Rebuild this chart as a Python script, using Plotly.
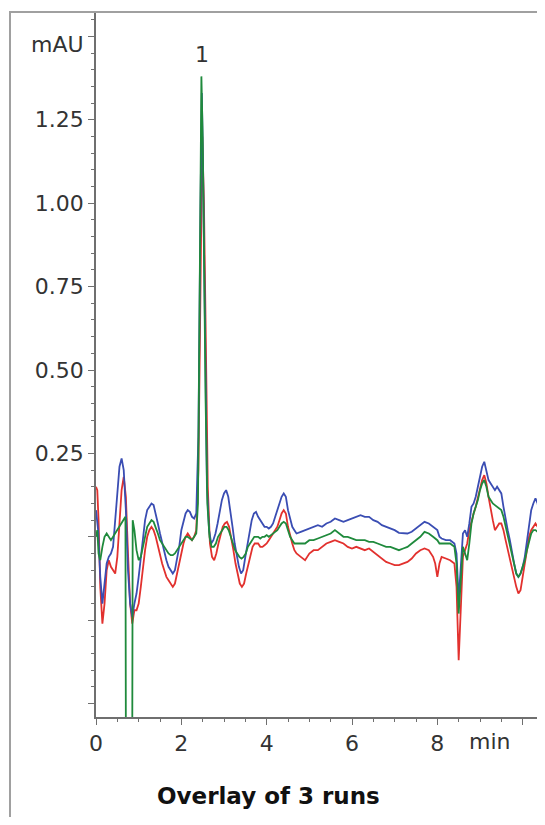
import plotly.graph_objects as go

# ---- data (time in min, signal in mAU) ----
blue_t = [0.00,0.05,0.10,0.15,0.20,0.25,0.30,0.35,0.40,0.45,0.50,0.55,0.60,0.65,0.70,0.75,0.80,0.85,0.90,0.95,
          1.00,1.05,1.10,1.15,1.20,1.25,1.30,1.35,1.40,1.45,1.50,1.55,1.60,1.65,1.70,1.75,1.80,1.85,1.90,1.95,
          2.00,2.05,2.10,2.15,2.20,2.25,2.30,2.35,2.40,2.45,2.48,2.51,2.55,2.60,2.65,2.70,2.75,2.80,2.85,2.90,2.95,
          3.00,3.05,3.10,3.15,3.20,3.25,3.30,3.35,3.40,3.45,3.50,3.55,3.60,3.65,3.70,3.75,3.80,3.85,3.90,3.95,
          4.00,4.05,4.10,4.15,4.20,4.25,4.30,4.35,4.40,4.45,4.50,4.55,4.60,4.65,4.70,4.80,4.90,
          5.00,5.10,5.20,5.30,5.40,5.50,5.60,5.70,5.80,5.90,6.00,6.10,6.20,6.30,6.40,6.50,6.60,6.70,6.80,6.90,
          7.00,7.10,7.20,7.30,7.40,7.50,7.60,7.70,7.80,7.90,8.00,8.05,8.10,8.20,8.30,8.40,8.45,8.50,8.55,8.60,
          8.65,8.70,8.75,8.80,8.85,8.90,8.95,9.00,9.05,9.10,9.15,9.20,9.25,9.30,9.35,9.40,9.45,9.50,9.55,9.60,
          9.65,9.70,9.75,9.80,9.85,9.90,9.95,10.00,10.05,10.10,10.15,10.20,10.25,10.30,10.35,10.40,10.45,10.50]
blue_v = [0.08,0.02,-0.12,-0.20,-0.14,-0.08,-0.06,-0.05,-0.03,0.05,0.15,0.21,0.235,0.20,0.08,-0.10,-0.20,-0.24,-0.20,-0.17,
          -0.12,-0.06,0.00,0.05,0.08,0.09,0.10,0.095,0.07,0.04,0.01,-0.02,-0.05,-0.07,-0.09,-0.10,-0.11,-0.10,-0.07,-0.03,
          0.02,0.05,0.07,0.08,0.075,0.06,0.055,0.07,0.30,1.00,1.33,1.10,0.60,0.15,0.02,-0.02,-0.01,0.01,0.04,0.08,0.11,
          0.13,0.14,0.12,0.08,0.03,-0.02,-0.06,-0.09,-0.11,-0.10,-0.06,-0.02,0.02,0.05,0.07,0.075,0.06,0.05,0.04,0.03,
          0.03,0.025,0.03,0.04,0.06,0.08,0.10,0.12,0.13,0.12,0.08,0.05,0.03,0.02,0.01,0.015,0.02,
          0.025,0.03,0.035,0.03,0.04,0.045,0.055,0.05,0.045,0.05,0.055,0.06,0.065,0.06,0.06,0.05,0.045,0.035,0.03,0.025,
          0.02,0.012,0.01,0.01,0.015,0.025,0.035,0.045,0.04,0.03,0.02,0.0,-0.005,-0.01,-0.01,-0.02,-0.05,-0.19,-0.10,0.01,
          0.02,0.0,0.04,0.09,0.10,0.12,0.15,0.18,0.21,0.225,0.20,0.17,0.16,0.15,0.14,0.15,0.14,0.13,0.09,0.05,
          0.02,-0.01,-0.05,-0.08,-0.11,-0.12,-0.11,-0.09,-0.06,-0.01,0.04,0.08,0.10,0.115,0.10,0.06,0.0,-0.28]

red_t = [0.00,0.03,0.06,0.10,0.15,0.20,0.25,0.30,0.35,0.40,0.45,0.50,0.55,0.60,0.65,0.70,0.75,0.80,0.85,0.90,0.95,
         1.00,1.05,1.10,1.15,1.20,1.25,1.30,1.35,1.40,1.45,1.50,1.55,1.60,1.65,1.70,1.75,1.80,1.85,1.90,1.95,
         2.00,2.05,2.10,2.15,2.20,2.25,2.30,2.35,2.40,2.45,2.49,2.53,2.57,2.62,2.67,2.72,2.77,2.82,2.87,2.92,2.97,
         3.02,3.07,3.12,3.17,3.22,3.27,3.32,3.37,3.42,3.47,3.52,3.57,3.62,3.67,3.72,3.80,3.85,3.90,3.95,
         4.00,4.05,4.10,4.15,4.20,4.25,4.30,4.35,4.40,4.45,4.50,4.55,4.60,4.65,4.70,4.80,4.90,
         5.00,5.10,5.20,5.30,5.40,5.50,5.60,5.70,5.80,5.90,6.00,6.10,6.20,6.30,6.40,6.50,6.60,6.70,6.80,6.90,
         7.00,7.10,7.20,7.30,7.40,7.50,7.60,7.70,7.80,7.90,7.95,8.00,8.05,8.10,8.20,8.30,8.40,8.45,8.50,8.55,8.60,
         8.65,8.70,8.75,8.80,8.85,8.90,8.95,9.00,9.05,9.10,9.15,9.20,9.25,9.30,9.35,9.40,9.45,9.50,9.55,9.60,
         9.65,9.70,9.75,9.80,9.85,9.90,9.95,10.00,10.05,10.10,10.15,10.20,10.25,10.30,10.35,10.40,10.42,10.44]
red_v = [0.15,0.14,0.05,-0.15,-0.26,-0.20,-0.10,-0.07,-0.09,-0.10,-0.11,-0.06,0.05,0.14,0.18,0.12,-0.05,-0.20,-0.26,-0.22,-0.22,
         -0.20,-0.15,-0.09,-0.04,0.0,0.02,0.03,0.02,0.0,-0.03,-0.06,-0.08,-0.10,-0.12,-0.13,-0.14,-0.15,-0.14,-0.11,-0.07,
         -0.04,-0.02,0.0,0.01,0.0,-0.01,0.0,0.02,0.20,0.80,1.20,1.00,0.55,0.15,-0.02,-0.06,-0.07,-0.05,-0.02,0.01,0.03,
         0.04,0.045,0.03,0.0,-0.04,-0.08,-0.11,-0.14,-0.15,-0.14,-0.11,-0.08,-0.05,-0.03,-0.02,-0.02,-0.03,-0.03,-0.025,
         -0.02,-0.01,0.0,0.01,0.02,0.03,0.05,0.07,0.08,0.07,0.03,0.0,-0.02,-0.04,-0.05,-0.06,-0.07,
         -0.05,-0.04,-0.04,-0.03,-0.02,-0.015,-0.01,-0.015,-0.02,-0.03,-0.035,-0.03,-0.035,-0.04,-0.035,-0.045,-0.055,-0.065,-0.075,-0.08,
         -0.085,-0.085,-0.08,-0.075,-0.065,-0.05,-0.04,-0.035,-0.04,-0.06,-0.08,-0.12,-0.08,-0.06,-0.065,-0.07,-0.08,-0.15,-0.37,-0.20,-0.06,
         -0.04,-0.02,0.02,0.05,0.07,0.09,0.12,0.15,0.17,0.185,0.16,0.12,0.08,0.05,0.02,0.03,0.04,0.04,0.02,-0.01,
         -0.04,-0.07,-0.10,-0.13,-0.15,-0.17,-0.16,-0.12,-0.08,-0.04,0.0,0.02,0.03,0.04,0.03,0.02,-0.20,-0.60]

green_t = [0.00,0.03,0.06,0.10,0.15,0.20,0.25,0.30,0.35,0.40,0.45,0.50,0.55,0.60,0.65,0.69,0.70,0.85,0.86,0.90,0.95,
           1.00,1.05,1.10,1.15,1.20,1.25,1.30,1.35,1.40,1.45,1.50,1.55,1.60,1.65,1.70,1.75,1.80,1.85,1.90,1.95,
           2.00,2.05,2.10,2.15,2.20,2.25,2.30,2.35,2.39,2.43,2.47,2.50,2.53,2.57,2.61,2.66,2.71,2.76,2.81,2.86,2.91,2.96,
           3.01,3.06,3.11,3.16,3.21,3.26,3.31,3.36,3.41,3.46,3.51,3.56,3.61,3.66,3.71,3.80,3.85,3.90,3.95,
           4.00,4.05,4.10,4.15,4.20,4.25,4.30,4.35,4.40,4.45,4.50,4.55,4.60,4.65,4.70,4.80,4.90,
           5.00,5.10,5.20,5.30,5.40,5.50,5.60,5.70,5.80,5.90,6.00,6.10,6.20,6.30,6.40,6.50,6.60,6.70,6.80,6.90,
           7.00,7.10,7.20,7.30,7.40,7.50,7.60,7.70,7.80,7.90,8.00,8.05,8.10,8.20,8.30,8.40,8.45,8.50,8.55,8.60,
           8.65,8.70,8.75,8.80,8.85,8.90,8.95,9.00,9.05,9.10,9.15,9.20,9.25,9.30,9.35,9.40,9.45,9.50,9.55,9.60,
           9.65,9.70,9.75,9.80,9.85,9.90,9.95,10.00,10.05,10.10,10.15,10.20,10.25,10.30,10.35,10.40,10.45,10.50]
green_v = [0.0,0.02,-0.05,-0.07,-0.03,0.0,0.01,0.0,-0.01,0.0,0.01,0.02,0.03,0.04,0.05,0.06,-0.60,-0.60,0.05,0.02,-0.04,
           -0.07,-0.06,-0.03,0.0,0.03,0.04,0.05,0.045,0.03,0.01,-0.01,-0.02,-0.03,-0.04,-0.05,-0.055,-0.055,-0.05,-0.04,-0.03,
           -0.02,-0.01,0.0,0.0,-0.005,-0.01,0.0,0.01,0.10,0.80,1.38,1.20,0.80,0.40,0.10,0.0,-0.03,-0.03,-0.02,0.0,0.01,0.02,
           0.03,0.03,0.02,0.0,-0.02,-0.04,-0.05,-0.06,-0.065,-0.06,-0.05,-0.03,-0.02,-0.01,0.0,0.0,-0.005,0.0,0.0,
           0.005,0.0,0.005,0.01,0.015,0.02,0.03,0.04,0.045,0.04,0.02,0.0,-0.01,-0.02,-0.02,-0.02,-0.02,
           -0.01,-0.01,-0.005,0.0,0.005,0.01,0.02,0.01,0.0,0.0,-0.005,-0.01,-0.01,-0.01,-0.015,-0.015,-0.02,-0.025,-0.03,-0.03,
           -0.035,-0.04,-0.035,-0.03,-0.02,-0.01,0.0,0.015,0.01,0.0,-0.01,-0.02,-0.02,-0.02,-0.02,-0.03,-0.08,-0.23,-0.12,-0.03,
           -0.05,-0.07,-0.02,0.04,0.07,0.09,0.11,0.14,0.16,0.17,0.15,0.12,0.11,0.10,0.095,0.09,0.085,0.08,0.06,0.03,
           0.0,-0.03,-0.06,-0.09,-0.11,-0.12,-0.11,-0.09,-0.07,-0.04,-0.01,0.01,0.02,0.02,0.015,0.0,-0.02,-0.04]

y_tick_vals = [-0.50, -0.25, 0.00, 0.25, 0.50, 0.75, 1.00, 1.25, 1.50]
y_tick_text = ["", "", "", "0.25", "0.50", "0.75", "1.00", "1.25", ""]
x_tick_vals = [0, 2, 4, 6, 8, 10]
x_tick_text = ["0", "2", "4", "6", "8", ""]

FONT = "DejaVu Sans"
OFF = 8  # page body margin
W, H = 537, 809
L, R, T, B = 88, 1, 5, 100
pw, ph = W - L - R, H - T - B

def px_x(p):  # reference pixel -> paper x
    return (p - OFF - L) / pw

def px_y(p):  # reference pixel -> paper y
    return (H - B - (p - OFF)) / ph

fig = go.Figure()
for t, v, c in [(red_t, red_v, "#e2312e"), (blue_t, blue_v, "#3a4db3"), (green_t, green_v, "#1f8a3c")]:
    fig.add_trace(go.Scatter(x=t, y=v, mode="lines", line=dict(color=c, width=1.8),
                             showlegend=False, hoverinfo="skip"))

TXT = dict(family=FONT, size=22, color="#333333")
fig.update_layout(
    width=W, height=H,
    margin=dict(l=L, r=R, t=T, b=B),
    paper_bgcolor="white", plot_bgcolor="white",
    font=TXT,
    showlegend=False,
)
fig.update_xaxes(range=[0, 10.5], showgrid=False, zeroline=False,
                 showline=True, linecolor="#6f6f6f", linewidth=1.5,
                 ticks="outside", ticklen=6, tickcolor="#6f6f6f",
                 tickvals=x_tick_vals, ticktext=x_tick_text, tickfont=TXT,
                 minor=dict(dtick=0.5, ticks="outside", ticklen=3, tickcolor="#6f6f6f"))
fig.update_yaxes(range=[-0.54, 1.57], showgrid=False, zeroline=False,
                 showline=True, linecolor="#6f6f6f", linewidth=1.5,
                 ticks="outside", ticklen=6, tickcolor="#6f6f6f",
                 tickvals=y_tick_vals, ticktext=y_tick_text, tickfont=TXT,
                 minor=dict(dtick=0.05, tick0=0, ticks="outside", ticklen=3, tickcolor="#6f6f6f"))

# outer frame
fig.add_shape(type="rect", xref="paper", yref="paper",
              x0=px_x(10), x1=px_x(544), y0=px_y(840), y1=px_y(12),
              line=dict(color="#a0a0a0", width=2), fillcolor="rgba(0,0,0,0)", layer="below")

fig.add_annotation(text="mAU", xref="paper", yref="paper", x=px_x(57), y=px_y(45),
                   xanchor="center", yanchor="middle", showarrow=False, font=TXT)
fig.add_annotation(text="1", x=2.48, y=1.445, xanchor="center", yanchor="middle",
                   showarrow=False, font=TXT)
fig.add_annotation(text="min", xref="paper", yref="paper", x=px_x(490), y=px_y(742),
                   xanchor="center", yanchor="middle", showarrow=False, font=TXT)
fig.add_annotation(text="<b>Overlay of 3 runs</b>", xref="paper", yref="paper",
                   x=px_x(268), y=px_y(796), xanchor="center", yanchor="middle", showarrow=False,
                   font=dict(family=FONT, size=23, color="#111111"))

fig.write_html("out.html")
